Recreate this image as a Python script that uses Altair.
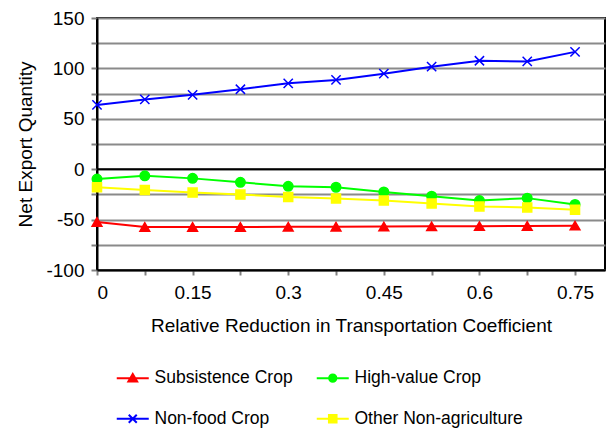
import altair as alt
import pandas as pd

x_values = [0, 0.075, 0.15, 0.225, 0.3, 0.375, 0.45, 0.525, 0.6, 0.675, 0.75]
series_names = ["Subsistence Crop", "High-value Crop", "Non-food Crop", "Other Non-agriculture"]
subsistence = [-52.3, -57.3, -57.3, -57.3, -57.1, -57.0, -56.9, -56.7, -56.5, -56.3, -56.0]
high_value = [-9.8, -6.6, -9.1, -13.0, -17.0, -17.9, -22.5, -26.8, -31.1, -28.7, -35.0]
non_food = [63.8, 69.2, 73.8, 79.3, 85.2, 88.6, 94.8, 101.7, 107.6, 106.9, 116.4]
other = [-17.9, -20.6, -23.2, -25.2, -27.5, -29.1, -31.1, -34.0, -37.0, -37.9, -40.2]
colors = ["#FF0000", "#00FF00", "#0000FF", "#FFFF00"]
y_ticks = list(range(-100, 151, 25))

rows = []
for name, vals in zip(series_names, [subsistence, high_value, non_food, other]):
    for xv, yv in zip(x_values, vals):
        rows.append({"x": xv, "y": yv, "series": name})
df = pd.DataFrame(rows)

FONT = "Liberation Sans"

plot_shapes = ["triangle-up", "circle", "M-1,-1L1,1M-1,1L1,-1", "square"]
plot_sizes = [95, 81, 90, 90]
legend_shapes = [
    "M-4,0H4M0,-1.05L1.1,0.85L-1.1,0.85Z",
    "M-4,0H4M0.9,0A0.9,0.9 0 1,1 -0.9,0A0.9,0.9 0 1,1 0.9,0Z",
    "M-4,0H4M-1,-1L1,1M-1,1L1,-1",
    "M-4,0H4M-0.95,-0.95H0.95V0.95H-0.95Z",
]

x_scale = alt.Scale(domain=[0, 0.797], nice=False, zero=False)
y_scale = alt.Scale(domain=[-100, 150], nice=False)

x_axis = alt.Axis(
    values=x_values,
    labelExpr="round(datum.value*1000) % 150 == 0 ? '' + datum.value : ''",
    grid=False,
    tickColor="#808080",
    tickSize=5,
    tickWidth=2,
    domainColor="black",
    domainWidth=2,
    labelFont=FONT,
    labelFontSize=19,
    labelColor="black",
    labelPadding=8,
    labelOverlap=False,
    title="Relative Reduction in Transportation Coefficient",
    titleFont=FONT,
    titleFontSize=19,
    titleFontWeight="normal",
    titleColor="black",
    titlePadding=14,
)
y_axis = alt.Axis(
    values=y_ticks,
    labelExpr="datum.value % 50 == 0 ? '' + datum.value : ''",
    grid=True,
    gridColor="#8a8a8a",
    gridWidth=2,
    tickColor="#808080",
    tickSize=6,
    tickWidth=2,
    domainColor="black",
    domainWidth=2,
    labelFont=FONT,
    labelFontSize=19,
    labelColor="black",
    labelPadding=7,
    labelOverlap=False,
    title="Net Export Quantity",
    titleFont=FONT,
    titleFontSize=19,
    titleFontWeight="normal",
    titleColor="black",
    titlePadding=10,
)

base = alt.Chart(df)

lines = base.mark_line(strokeWidth=2).encode(
    x=alt.X("x:Q", scale=x_scale, axis=x_axis),
    y=alt.Y("y:Q", scale=y_scale, axis=y_axis),
    color=alt.Color("series:N", scale=alt.Scale(domain=series_names, range=colors), legend=None),
    detail="series:N",
)

zero_line = alt.Chart(pd.DataFrame({"y": [0]})).mark_rule(color="black", strokeWidth=2).encode(
    y=alt.Y("y:Q", scale=y_scale, axis=y_axis)
)

points = base.mark_point(filled=False, strokeWidth=1.5, opacity=1).encode(
    x=alt.X("x:Q", scale=x_scale, axis=x_axis),
    y=alt.Y("y:Q", scale=y_scale, axis=y_axis),
    fill=alt.Fill("series:N", scale=alt.Scale(domain=series_names, range=colors), legend=None),
    stroke=alt.Stroke("series:N", scale=alt.Scale(domain=series_names, range=colors), legend=None),
    shape=alt.Shape("series:N", scale=alt.Scale(domain=series_names, range=plot_shapes), legend=None),
    size=alt.Size("series:N", scale=alt.Scale(domain=series_names, range=plot_sizes), legend=None),
)

legend_layer = base.mark_point(filled=False, opacity=0, strokeWidth=2).encode(
    x=alt.X("x:Q", scale=x_scale, axis=x_axis),
    y=alt.Y("y:Q", scale=y_scale, axis=y_axis),
    fill=alt.Fill("series:N", scale=alt.Scale(domain=series_names, range=colors), title=None),
    stroke=alt.Stroke("series:N", scale=alt.Scale(domain=series_names, range=colors), title=None),
    shape=alt.Shape(
        "series:N",
        scale=alt.Scale(domain=series_names, range=legend_shapes),
        title=None,
        legend=alt.Legend(
            orient="none",
            legendX=27,
            legendY=351,
            columns=2,
            direction="horizontal",
            symbolSize=64,
            symbolStrokeWidth=2,
            symbolOpacity=1,
            labelFont=FONT,
            labelFontSize=17.5,
            labelColor="black",
            labelOffset=13,
            labelLimit=300,
            columnPadding=19,
            rowPadding=22,
            padding=0,
        ),
    ),
)

chart = (
    alt.layer(lines, zero_line, points, legend_layer)
    .resolve_scale(fill="independent", stroke="independent", shape="independent", size="independent")
    .resolve_legend(fill="independent", stroke="independent", shape="independent", size="independent")
    .properties(
        width=508,
        height=252,
        autosize=alt.AutoSizeParams(type="none"),
        padding={"left": 97, "top": 18, "right": 3, "bottom": 158},
        background="white",
    )
    .configure_view(stroke="black", strokeWidth=2)
)

chart.save("out.html", embed_options={"renderer": "svg", "actions": False})
